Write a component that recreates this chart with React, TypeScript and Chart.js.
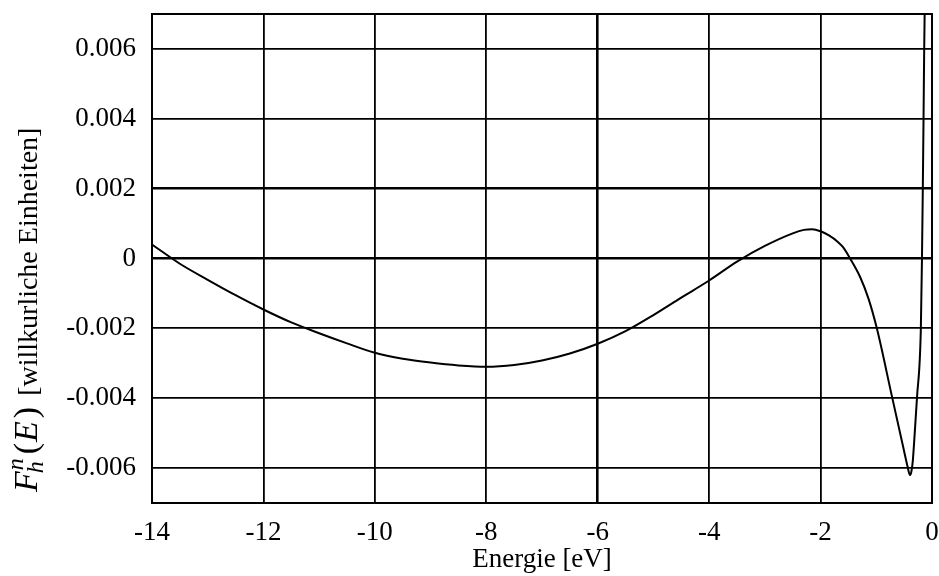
import { useEffect, useRef } from "react";
import { Chart, registerables } from "chart.js";
Chart.register(...registerables);

const energy = [-14, -13.5, -13, -12.5, -12, -11.5, -11, -10.5, -10, -9.5, -9, -8.5, -8, -7.5, -7, -6.5, -6, -5.5, -5, -4.5, -4, -3.5, -3, -2.5, -2.3, -2.15, -2, -1.85, -1.7, -1.6, -1.47, -1.29, -1.14, -0.99, -0.72, -0.55, -0.48, -0.44, -0.395, -0.37, -0.345, -0.31, -0.27, -0.2, -0.18, -0.165, -0.152, -0.14, -0.128];
const fValues = [0.0004, -0.00015, -0.00061, -0.00105, -0.00146, -0.00183, -0.00214, -0.00243, -0.0027, -0.00287, -0.00298, -0.00306, -0.0031, -0.00305, -0.00292, -0.00272, -0.00244, -0.00208, -0.00162, -0.00112, -0.00063, -0.00009, 0.00036, 0.00072, 0.00082, 0.00084, 0.00078, 0.00066, 0.00049, 0.00033, 0, -0.00053, -0.00115, -0.002, -0.00394, -0.00516, -0.00567, -0.00595, -0.0062, -0.0061, -0.0058, -0.005, -0.004, -0.002, 0, 0.002, 0.004, 0.006, 0.0075];

const xTicks = [-14, -12, -10, -8, -6, -4, -2, 0];
const xTickLabels = ["-14", "-12", "-10", "-8", "-6", "-4", "-2", "0"];
const yTicks = [-0.006, -0.004, -0.002, 0, 0.002, 0.004, 0.006];
const yTickLabels = ["-0.006", "-0.004", "-0.002", "0", "0.002", "0.004", "0.006"];

const xTitle = "Energie [eV]";
const yTitleSymbol = "F";
const yTitleSub = "h";
const yTitleSup = "n";
const yTitleOpen = "(";
const yTitleArg = "E";
const yTitleClose = ")";
const yTitleRest = " [willkurliche Einheiten]";

const FONT = '"Liberation Serif", "DejaVu Serif", serif';

const framePlugin = {
  id: "frame",
  afterDatasetsDraw(chart: any) {
    const { ctx, chartArea } = chart;
    ctx.save();
    ctx.strokeStyle = "#000";
    ctx.lineWidth = 2;
    ctx.strokeRect(chartArea.left, chartArea.top, chartArea.right - chartArea.left, chartArea.bottom - chartArea.top);
    ctx.restore();
  },
};

const yTitlePlugin = {
  id: "yTitle",
  afterDraw(chart: any) {
    const { ctx } = chart;
    const mathFont = `italic 34px ${FONT}`;
    const mathUp = `34px ${FONT}`;
    const scriptFont = `italic 24px ${FONT}`;
    const textFont = `28px ${FONT}`;
    ctx.save();
    ctx.fillStyle = "#000";
    ctx.textBaseline = "alphabetic";
    ctx.textAlign = "left";
    ctx.translate(37, 492);
    ctx.rotate(-Math.PI / 2);
    let x = 0;
    ctx.font = mathFont;
    ctx.fillText(yTitleSymbol, x, 0);
    x += ctx.measureText(yTitleSymbol).width;
    ctx.font = scriptFont;
    const wSup = ctx.measureText(yTitleSup).width;
    const wSub = ctx.measureText(yTitleSub).width;
    ctx.fillText(yTitleSup, x + 1, -14);
    ctx.fillText(yTitleSub, x - 2, 6);
    x += Math.max(wSup + 1, wSub - 2) + 4;
    ctx.font = mathUp;
    ctx.fillText(yTitleOpen, x, 0);
    x += ctx.measureText(yTitleOpen).width + 1;
    ctx.font = mathFont;
    ctx.fillText(yTitleArg, x, 0);
    x += ctx.measureText(yTitleArg).width + 3;
    ctx.font = mathUp;
    ctx.fillText(yTitleClose, x, 0);
    x += ctx.measureText(yTitleClose).width + 4;
    ctx.font = textFont;
    ctx.fillText(yTitleRest, x, 0);
    ctx.restore();
  },
};

export default function App() {
  const ref = useRef<HTMLCanvasElement | null>(null);
  useEffect(() => {
    if (!ref.current) return;
    const chart = new Chart(ref.current, {
      type: "line",
      data: {
        datasets: [
          {
            data: energy.map((e, i) => ({ x: e, y: fValues[i] })),
            borderColor: "#000",
            borderWidth: 2,
            pointRadius: 0,
            fill: false,
            cubicInterpolationMode: "monotone",
          },
        ],
      },
      options: {
        animation: false,
        responsive: false,
        maintainAspectRatio: false,
        layout: { padding: { left: 0, top: 14, right: 7, bottom: 0 } },
        plugins: { legend: { display: false }, tooltip: { enabled: false }, title: { display: false } },
        scales: {
          x: {
            type: "linear",
            min: -14,
            max: 0,
            afterBuildTicks: (s: any) => {
              s.ticks = xTicks.map((v) => ({ value: v }));
            },
            afterFit: (s: any) => {
              s.height = 73;
              s.paddingLeft = 0;
              s.paddingRight = 0;
              s.paddingTop = 0;
              s.paddingBottom = 0;
            },
            ticks: {
              autoSkip: false,
              maxRotation: 0,
              color: "#000",
              padding: 14,
              font: { family: FONT, size: 27 },
              callback: (v: any) => xTickLabels[xTicks.indexOf(Number(v))] ?? "",
            },
            grid: {
              color: "#000",
              lineWidth: (c: any) => (c.tick && c.tick.value === -6 ? 2.6 : 1.8),
              drawTicks: false,
            },
            border: { display: true, color: "#000", width: 2 },
            title: {
              display: true,
              text: xTitle,
              color: "#000",
              font: { family: FONT, size: 27 },
              padding: { top: 0, bottom: 0 },
            },
          },
          y: {
            type: "linear",
            min: -0.007,
            max: 0.007,
            afterBuildTicks: (s: any) => {
              s.ticks = yTicks.map((v) => ({ value: v }));
            },
            afterFit: (s: any) => {
              s.width = 152;
              s.paddingLeft = 0;
              s.paddingRight = 0;
              s.paddingTop = 0;
              s.paddingBottom = 0;
            },
            ticks: {
              color: "#000",
              padding: 16,
              font: { family: FONT, size: 27 },
              callback: (v: any) => {
                const i = yTicks.findIndex((t) => Math.abs(t - Number(v)) < 1e-9);
                return i >= 0 ? yTickLabels[i] : "";
              },
            },
            grid: {
              color: "#000",
              lineWidth: (c: any) =>
                c.tick && (Math.abs(c.tick.value) < 1e-9 || Math.abs(c.tick.value - 0.002) < 1e-9) ? 2.6 : 1.8,
              drawTicks: false,
            },
            border: { display: true, color: "#000", width: 2 },
          },
        },
      },
      plugins: [framePlugin, yTitlePlugin],
    } as any);
    return () => chart.destroy();
  }, []);
  return (
    <div style={{ position: "fixed", left: 0, top: 0, width: 939, height: 576, background: "#fff" }}>
      <canvas ref={ref} width={939} height={576} style={{ width: 939, height: 576, display: "block" }} />
    </div>
  );
}
